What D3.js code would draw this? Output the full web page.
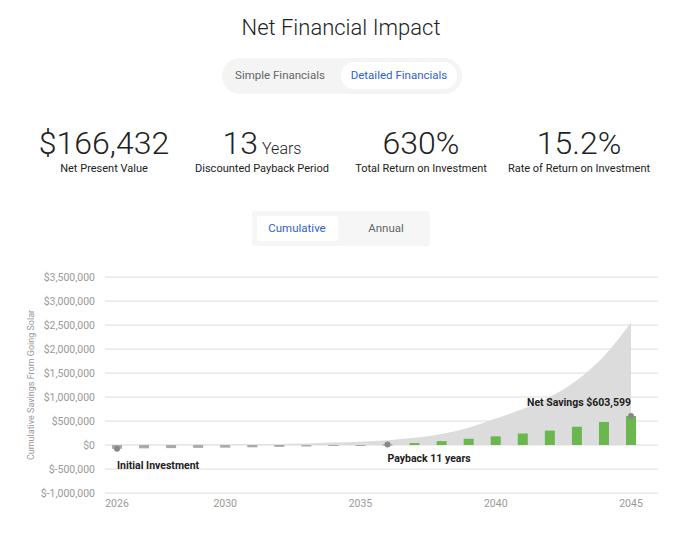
<!DOCTYPE html>
<meta charset="utf-8">
<title>Net Financial Impact</title>
<script src="https://d3js.org/d3.v7.min.js"></script>
<style>
  body { margin:0; font-family: Roboto, sans-serif; background:#fff; }
</style>
<body>
</body>
<script>
  const width = 674, height = 534;

  // data
  const years = d3.range(2026, 2046);
  const cumulative = [-80000, -70000, -65000, -60000, -55000, -48000, -40000, -30000, -20000, -8000,
                      10000, 40000, 80000, 130000, 180000, 240000, 300000, 380000, 480000, 603599];
  const areaTop = [0, 3000, 5000, 8000, 10000, 14000, 20000, 30000, 50000, 70000,
                   100000, 150000, 230000, 360000, 550000, 750000, 1000000, 1350000, 1850000, 2550000];
  const yTicks = [-1000000, -500000, 0, 500000, 1000000, 1500000, 2000000, 2500000, 3000000, 3500000];
  const xTicks = [2026, 2030, 2035, 2040, 2045];
  const metrics = [
    {value: "$166,432", unit: "", label: "Net Present Value"},
    {value: "13", unit: "Years", label: "Discounted Payback Period"},
    {value: "630%", unit: "", label: "Total Return on Investment"},
    {value: "15.2%", unit: "", label: "Rate of Return on Investment"}
  ];
  const metricX = [104, 262, 421, 579];

  const svg = d3.select("body").append("svg").attr("width", width).attr("height", height);

  ////////////////////////// Header //////////////////////////
  svg.append("text").attr("x", 341).attr("y", 35).attr("text-anchor", "middle")
    .attr("font-size", 22).attr("font-weight", 300).attr("fill", "#222").text("Net Financial Impact");

  svg.append("rect").attr("x", 222).attr("y", 58).attr("width", 240).attr("height", 36).attr("rx", 18).attr("fill", "#f4f4f4");
  svg.append("rect").attr("x", 341).attr("y", 62).attr("width", 116).attr("height", 27).attr("rx", 13).attr("fill", "#fff");
  svg.append("text").attr("x", 280).attr("y", 79).attr("text-anchor", "middle").attr("font-size", 11.5).attr("fill", "#666").text("Simple Financials");
  svg.append("text").attr("x", 399).attr("y", 79).attr("text-anchor", "middle").attr("font-size", 11.5).attr("fill", "#2f5fd0").text("Detailed Financials");

  const m = svg.append("g").selectAll("g").data(metrics).join("g")
    .attr("transform", (d, i) => `translate(${metricX[i]},0)`);
  m.append("text").attr("y", 154).attr("text-anchor", "middle").attr("fill", "#222")
    .each(function(d) {
      const t = d3.select(this);
      t.append("tspan").attr("font-size", 32).attr("font-weight", 300).text(d.value);
      if (d.unit) t.append("tspan").attr("font-size", 16).attr("font-weight", 300).attr("dx", 4).text(d.unit);
    });
  m.append("text").attr("y", 172).attr("text-anchor", "middle").attr("font-size", 11).attr("fill", "#222").text(d => d.label);

  svg.append("rect").attr("x", 252).attr("y", 211).attr("width", 178).attr("height", 35).attr("rx", 3).attr("fill", "#f6f6f6");
  svg.append("rect").attr("x", 257).attr("y", 216).attr("width", 81).attr("height", 25).attr("rx", 3).attr("fill", "#fff");
  svg.append("text").attr("x", 297).attr("y", 232).attr("text-anchor", "middle").attr("font-size", 11.5).attr("fill", "#2f5fd0").text("Cumulative");
  svg.append("text").attr("x", 386).attr("y", 232).attr("text-anchor", "middle").attr("font-size", 11.5).attr("fill", "#666").text("Annual");

  ////////////////////////// Chart //////////////////////////
  const x = d3.scaleLinear().domain([2026, 2045]).range([117, 631]);
  const y = d3.scaleLinear().domain([-1000000, 3500000]).range([493, 277]);
  const fmt = d => (d < 0 ? "$-" : "$") + d3.format(",")(Math.abs(d));

  const grid = svg.append("g");
  grid.selectAll("line").data(yTicks).join("line")
    .attr("x1", 105).attr("x2", 658).attr("y1", d => y(d)).attr("y2", d => y(d))
    .attr("stroke", "#dcdcdc");
  grid.selectAll("text").data(yTicks).join("text")
    .attr("x", 95).attr("y", d => y(d) + 4).attr("text-anchor", "end")
    .attr("font-size", 10.5).attr("fill", "#999").text(fmt);

  svg.append("text").attr("transform", "translate(34,385) rotate(-90)").attr("text-anchor", "middle")
    .attr("font-size", 9).attr("fill", "#999").text("Cumulative Savings From Going Solar");

  svg.append("g").selectAll("text").data(xTicks).join("text")
    .attr("x", d => x(d)).attr("y", 507).attr("text-anchor", "middle")
    .attr("font-size", 10.5).attr("fill", "#999").text(d => d);

  svg.append("path").datum(years)
    .attr("fill", "#dcdcdc")
    .attr("d", d3.area().x(d => x(d)).y0(y(0)).y1((d, i) => y(areaTop[i])).curve(d3.curveMonotoneX));

  svg.append("g").selectAll("rect").data(years).join("rect")
    .attr("x", d => x(d) - 5).attr("width", 10)
    .attr("y", (d, i) => y(Math.max(0, cumulative[i])))
    .attr("height", (d, i) => Math.max(1, Math.abs(y(cumulative[i]) - y(0))))
    .attr("fill", (d, i) => cumulative[i] < 0 ? "#aaaaaa" : "#6ab74e");

  const marks = [
    {i: 0, text: "Initial Investment", anchor: "start", dx: 0, dy: 20},
    {i: 10, text: "Payback 11 years", anchor: "start", dx: 0, dy: 17},
    {i: 19, text: "Net Savings $603,599", anchor: "end", dx: 0, dy: -10}
  ];
  svg.append("g").selectAll("circle").data(marks).join("circle")
    .attr("cx", d => x(years[d.i])).attr("cy", d => y(cumulative[d.i]))
    .attr("r", 3).attr("fill", "#888");
  svg.append("g").selectAll("text").data(marks).join("text")
    .attr("x", d => x(years[d.i]) + d.dx).attr("y", d => y(cumulative[d.i]) + d.dy)
    .attr("text-anchor", d => d.anchor).attr("font-size", 10.5).attr("font-weight", 700)
    .attr("fill", "#222").text(d => d.text);
</script>
